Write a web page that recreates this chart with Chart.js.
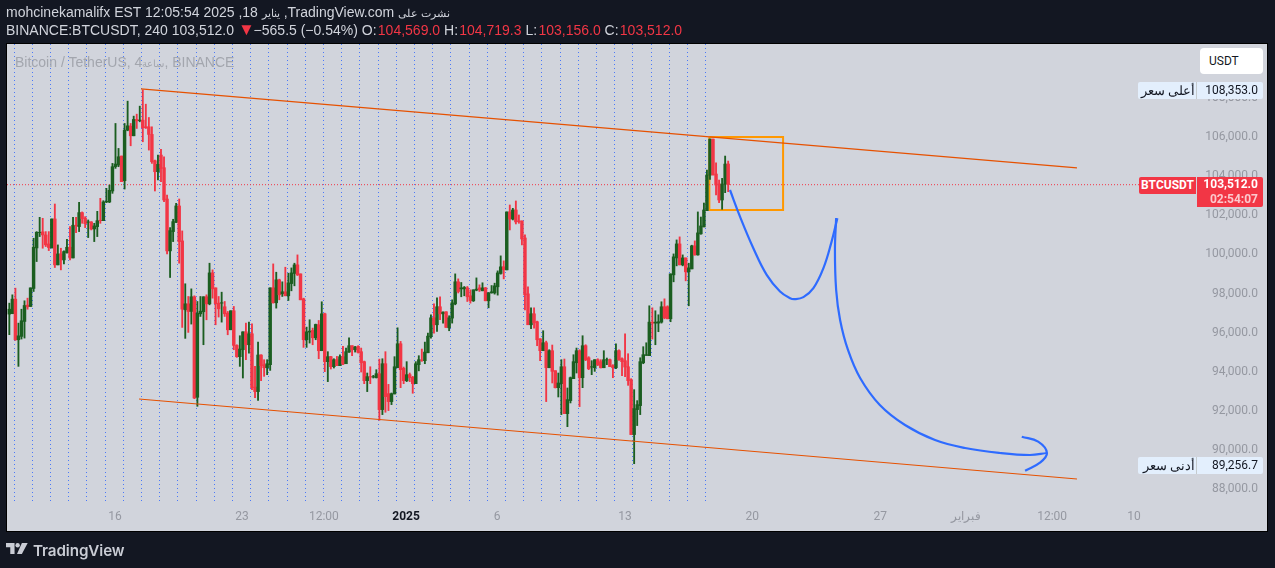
<!DOCTYPE html>
<html>
<head>
<meta charset="utf-8">
<title>BTCUSDT</title>
<script src="https://cdn.jsdelivr.net/npm/chart.js@4"></script>
<style>
  html, body { margin: 0; padding: 0; background: #131722; }
  #page { position: relative; width: 1275px; height: 568px; overflow: hidden; background: #131722; font-family: "Liberation Sans", Arial, sans-serif; }
  #panel { position: absolute; left: 7px; top: 44px; width: 1260px; height: 487px; background: #d1d4dc; box-shadow: 0 0 0 1px #000; }
  canvas { position: absolute; left: 0; top: 0; }
  .head { position: absolute; left: 6px; font-size: 14px; color: #d1d4dc; white-space: nowrap; line-height: 18px; }
  .head b { font-weight: normal; color: #f23645; margin-left: 1.25px; }
  .head i { font-style: normal; font-size: 17px; line-height: 14px; color: #f23645; margin-right: -5px; }
  .ltr { unicode-bidi: bidi-override; direction: ltr; }
  .ar { unicode-bidi: isolate; direction: rtl; font-size: 11px; }
  #watermark { position: absolute; left: 15px; top: 54px; font-size: 14px; color: #a3a6ae; white-space: nowrap; }
  #watermark .ar { font-size: 10px; }
  .tag { position: absolute; font: 12px Roboto, sans-serif; white-space: nowrap; }
  #usdt { left: 1200px; top: 48px; width: 63px; height: 26px; line-height: 26px; background: #fff; border-radius: 4px; color: #131722; text-indent: 9px; }
  .extreme { left: 1138px; width: 125px; height: 17px; line-height: 17px; background: #e3effd; border-radius: 2px; color: #131722; }
  .extreme .name { position: absolute; left: 0; width: 57px; text-align: right; padding-right: 1px; direction: rtl; border-right: 1px solid #c5cbce; font: 13px "Noto Sans", sans-serif; line-height: 17px; }
  .extreme .num { position: absolute; right: 5px; }
  #sym { left: 1139px; top: 177px; width: 57px; height: 17px; line-height: 17px; background: #f23645; color: #fff; font-weight: bold; text-align: center; border-radius: 2px 0 0 2px; }
  #last { left: 1197px; top: 177px; width: 66px; height: 30px; background: #f23645; color: #fff; font-weight: bold; text-align: right; border-radius: 0 2px 2px 0; }
  #last div { padding-right: 5px; height: 15px; line-height: 15px; }
  #last div + div { color: #fcc8cd; }
  #logo { position: absolute; left: 6px; top: 541px; color: #c9ccd4; font: 600 15.2px "Inter", sans-serif; }
  #logo svg { position: absolute; left: 0; top: 2px; }
  #logo span { position: absolute; left: 27px; top: 0; letter-spacing: -0.1px; }
</style>
</head>
<body>
<div id="page">
  <div id="panel"></div>
  <canvas id="chart" width="1275" height="568"></canvas>
  <div class="head" style="top:3px"><span class="ltr">mohcinekamalifx EST 12:05:54 2025 ,18 </span><span class="ar">يناير</span><span class="ltr"> ,TradingView.com </span><span class="ar">نشرت على</span></div>
  <div class="head" style="top:21px">BINANCE:BTCUSDT, 240 103,512.0 <i>▼</i> −565.5 (−0.54%) O:<b>104,569.0</b> H:<b>104,719.3</b> L:<b>103,156.0</b> C:<b>103,512.0</b></div>
  <div id="watermark">Bitcoin / TetherUS, <span class="ltr">4</span><span class="ar">ساعة</span>, BINANCE</div>
  <div class="tag" id="usdt">USDT</div>
  <div class="tag extreme" style="top:82px"><span class="name">أعلى سعر</span><span class="num">108,353.0</span></div>
  <div class="tag extreme" style="top:457px"><span class="name">أدنى سعر</span><span class="num">89,256.7</span></div>
  <div class="tag" id="sym">BTCUSDT</div>
  <div class="tag" id="last"><div>103,512.0</div><div>02:54:07</div></div>
  <div id="logo">
    <svg width="22" height="11" viewBox="0 0 36 18"><path fill="#c9ccd4" d="M0 0h14v18H7V7H0V0zM26 18h-8L26 0h9.5L26 18z"/><circle fill="#c9ccd4" cx="19" cy="3.6" r="3.6"/></svg>
    <span>TradingView</span>
  </div>
</div>
<script>
// Свечи 4h, читаем с картинки
const opens = [
  96900,96920,97665,95590,95760,96525,97360,97290,98210,100280,
  101065,101100,100945,100485,100280,101760,99415,99975,99670,100045,
  100315,99770,101440,101370,102085,101810,101590,101610,101250,101370,
  101695,101675,102630,102630,103190,104430,104515,104975,103715,106300,
  106505,106010,106845,106790,106810,106470,106470,106080,104735,104175,
  105025,104380,102780,100130,101115,101590,102425,100640,97120,97425,
  97035,97785,92650,96915,97020,97785,97425,99005,98240,97460,
  97460,97275,96950,96100,97070,95300,94725,95080,95995,95335,
  95895,93175,92940,94810,94315,94160,94315,98240,97480,98650,
  97936,98040,97835,98460,98975,99415,98955,97680,95590,95980,
  96065,95690,96355,95030,96915,94470,94725,94215,94570,94265,
  94725,94365,94960,95285,95080,95250,94980,94470,93500,93705,
  93685,93650,93855,92020,94365,92835,92430,92820,94160,95385,
  94130,93500,93805,93670,93345,94315,94553,94520,94925,95745,
  96710,96355,97275,96915,97020,96200,96695,97425,98550,98190,
  98190,98240,97835,97580,98125,98240,98090,98240,97580,97985,
  97985,98295,98975,99315,99160,102120,101760,102220,101660,101660,
  100790,97935,96355,96915,96510,95640,95030,95435,94160,95030,
  94010,93140,93345,94210,91815,92480,93600,94415,95030,93650,
  95285,94670,94195,94160,94570,94470,94160,94555,94570,94265,
  94160,95030,94620,94520,94210,93550,90745,92020,92225,94415,
  94790,94775,96490,96440,96440,96490,97275,97275,96660,98905,
  99770,100485,99415,99770,99060,99210,100385,99925,101000,101355,
  102185,104005,105841,104056,103545,102730,103545,104569
];
const highs = [
  97460,97885,98225,96440,97150,97580,97715,98240,100775,101115,
  101845,101795,101115,101115,101760,102525,100435,100265,100130,100725,
  101370,101845,101845,102610,102120,101880,101710,101625,101540,102150,
  102815,102695,103325,103495,104600,106640,105365,104975,106640,107780,
  106640,107015,107115,107525,108353,107625,106945,106470,104770,105025,
  105315,104940,102985,101320,101745,102560,102780,101150,98450,97800,
  98190,97835,97545,97800,97785,97885,99500,99160,98240,97800,
  98020,97545,97035,97070,97290,95335,95795,95995,96440,96490,
  96405,94230,95470,94825,94570,94570,98240,99465,99040,98685,
  98550,99295,98990,99260,99500,99925,98955,97715,96235,96610,
  96185,96390,96575,97530,96950,94980,94740,94620,94740,94825,
  95250,95165,95690,95285,95250,95285,95165,94500,93890,94210,
  93770,94060,94600,94620,94980,93310,92870,94725,96200,95505,
  94195,94470,93890,93720,94470,94775,95115,95470,95930,96865,
  97425,97730,97785,97020,97020,96815,97630,98955,98700,98515,
  98310,98310,98140,98140,98750,98395,98500,98260,98005,98360,
  98480,99110,99875,99620,102120,102475,102305,102680,101965,101660,
  100945,98290,97220,97220,96540,95640,96050,95520,95080,95320,
  94010,93890,94570,94605,93125,93685,94825,95165,95080,95795,
  95335,94725,94520,94570,94620,94570,95030,94655,94605,94315,
  95385,95080,94670,95895,94875,93600,93040,92480,94670,95235,
  95435,97325,97220,97070,96865,97530,97680,97325,98955,99975,
  100690,100845,99925,99770,99500,100420,100640,102120,101860,102575,
  104260,105841,105841,104635,103750,103835,104975,104719.3
];
const lows = [
  95850,96920,95555,94230,95625,95675,97150,97290,98055,99585,
  100860,100265,100350,100145,100280,99280,99415,99160,99465,100010,
  99670,99770,101065,101115,101540,101320,100810,101200,100605,100860,
  101540,101675,102595,102595,103070,104345,104430,103665,103290,106266,
  105500,106010,106385,106725,105705,106385,105280,104600,103190,103750,
  103665,102645,99975,98770,100605,101575,99500,96220,95660,95965,
  96390,92580,92190,96780,95335,96610,97375,97715,96355,96750,
  96490,96780,95845,96100,95080,94690,94230,93635,94570,94910,
  93040,92630,92495,93500,93720,93805,94025,97460,97205,97630,
  97800,97835,97595,98090,98345,98870,97630,95200,95200,95420,
  95335,95590,94620,95030,93960,93450,94095,94145,94265,94265,
  94315,94365,94945,94775,94960,94910,93940,93345,92940,93345,
  93635,93635,91475,91765,91885,91970,92275,92820,94160,93140,
  93345,93450,93450,92855,93345,94000,94485,94365,94925,95675,
  95930,96015,96610,96440,96220,96050,96440,97375,97980,97785,
  97835,97545,97460,97545,98090,98055,98090,97580,97220,97970,
  97920,97870,98940,98700,99160,101200,101710,101505,101540,100435,
  97120,96355,96150,96185,95285,94520,95030,92430,94160,93380,
  93125,92665,91765,91815,91150,92360,93600,93890,92175,93140,
  94520,94060,93805,93975,94265,94145,94160,94315,94215,93650,
  94110,94535,93755,93705,93260,90745,89256.7,91205,91765,94365,
  94790,94775,95625,95335,96000,96440,96660,96660,96510,98550,
  99365,99415,99365,98600,97325,99210,99910,99910,100980,101355,
  102185,103785,104005,102985,102595,102255,103105,103156
];
const closes = [
  97150,97665,95590,95790,96560,97340,97275,98240,100315,101080,
  101080,100945,100435,100300,101760,99415,99975,99670,100095,100315,
  99770,101440,101420,102085,101780,101520,101610,101250,101405,101675,
  101675,102630,102660,103225,104430,104566,104940,103665,106300,106520,
  106010,106845,106775,106810,106420,106420,106080,104685,104175,104550,
  104345,102730,100130,101165,101625,102425,100605,97155,97425,97035,
  97785,92615,96950,97050,97785,97425,99005,98190,97425,97170,
  97480,96915,96100,97070,95300,94725,95115,95995,95335,95895,
  93140,92940,94810,94265,94160,94365,98240,97480,98650,97885,
  98040,97835,98495,99005,99415,98905,97630,95590,95995,96030,
  95690,96370,95030,96915,94470,94725,94215,94570,94265,94725,
  94350,94980,95285,95080,95215,94945,94415,93500,93705,93685,
  93705,93855,92020,94365,92680,92430,92835,94210,95385,94060,
  93500,93805,93650,93345,94365,94570,94535,94960,95775,96710,
  96355,97275,96915,97000,96220,96710,97475,98550,98055,98240,
  98260,97785,97580,98140,98175,98140,98240,97580,97985,98040,
  98345,99005,99315,99175,102120,101760,102220,101610,101625,100740,
  97885,96355,96915,96455,95590,95030,95435,94160,95030,93975,
  93140,93380,94210,91815,92530,93650,94470,95030,93650,95285,
  94570,94110,94210,94570,94315,94160,94570,94570,94215,94160,
  95030,94570,94470,94195,93500,90745,92070,92275,94470,94825,
  94825,96490,96440,96490,96510,97275,96710,96660,98955,99825,
  100485,99415,99770,99060,99260,100385,99925,101050,101405,102220,
  104005,105841,104005,103495,102730,103545,104565,103512
];

// Подписи и вертикальные линии по оси X (номер свечи)
const dayLines = [4.6,10.6,16.6,22.6,28.6,34.6,40.6,46.6,52.6,58.6,64.6,70.6,76.6,82.6,88.6,94.6,100.6,106.6,112.6,118.6,124.6,130.6,136.6,142.6,148.6,154.6,160.6,166.6,172.6,178.6,184.6,190.6,196.6,202.6,208.6,214.6,220.6,226.6,232.6];
const tickPositions = [34.84,76.7,103.7,130.8,160.8,203,244.9,287.1,315.4,343.8,370.8];
const tickLabels = ['16','23','12:00','2025','6','13','20','27','فبراير','12:00','10'];
const priceTicks = [88000,90000,92000,94000,96000,98000,100000,102000,104000,106000,108000];

// Наклонный канал
const upperX = [43.4,352];
const upperY = [108404,104367];
const lowerX = [42.75,352];
const lowerY = [92563,88475];

// Прямоугольник
const boxX = [230.8,255.1,255.1,230.8,230.8];
const boxY = [105951,105951,102221,102221,105951];

// Синие кривые от руки
const curveAX = [237.6,240.9,245.3,249.7,254.1,257.4,259.0,261.8,265.1,268.4,271.1,273.0];
const curveAY = [103240,101880,100265,98905,98055,97715,97665,97765,98225,99245,100605,101795];
const curveBX = [272.6,272.2,272.6,273.9,276.5,280.5,287.0,295.3,305.2,315.1,326.6,336.5,342.1];
const curveBY = [101812,100180,98133,96600,95067,93636,92257,91235,90468,90060,89804,89702,89804];
const arrowX = [333.8,339.2,342.1,339.8,334.9];
const arrowY = [90637,90381,89804,89308,88899];

// Линия текущей цены
const lastPrice = 103512;
const lastX = [-0.77,372.8];

const GREEN = '#1b5e20';
const RED = '#f23645';
const barColors = closes.map((c, i) => c >= opens[i] ? GREEN : RED);
const xy = (xs, ys) => xs.map((x, i) => ({ x, y: ys[i] }));

const lineSet = (data, color, width, extra) => ({
  type: 'line',
  data,
  borderColor: color,
  borderWidth: width,
  pointRadius: 0,
  fill: false,
  ...extra
});

new Chart(document.getElementById('chart'), {
  data: {
    datasets: [
      lineSet(xy(lastX, [lastPrice, lastPrice]), RED, 1, { borderDash: [1, 2], order: 6 }),
      lineSet(xy(boxX, boxY), '#ff9800', 2, { order: 7 }),
      {
        type: 'bar',
        data: opens.map((o, i) => ({ x: i, y: [lows[i], highs[i]] })),
        backgroundColor: barColors,
        barThickness: 1.2,
        grouped: false,
        order: 5
      },
      {
        type: 'bar',
        data: opens.map((o, i) => ({ x: i, y: [o, closes[i]] })),
        backgroundColor: barColors,
        barThickness: 2.8,
        grouped: false,
        order: 4
      },
      lineSet(xy(upperX, upperY), '#e65100', 1.2, { order: 3 }),
      lineSet(xy(lowerX, lowerY), '#e65100', 1.2, { order: 3 }),
      lineSet(xy(curveAX, curveAY), '#2e6bff', 2.2, { tension: 0.4, order: 1 }),
      lineSet(xy(curveBX, curveBY), '#2e6bff', 2.2, { tension: 0.4, order: 1 }),
      lineSet(xy(arrowX, arrowY), '#2e6bff', 2.2, { tension: 0.4, order: 1 })
    ]
  },
  options: {
    responsive: false,
    animation: false,
    layout: { padding: { left: 7, right: 17, top: 44, bottom: 37 } },
    plugins: { legend: { display: false }, tooltip: { enabled: false } },
    scales: {
      x: {
        type: 'linear',
        offset: false,
        min: -0.77,
        max: 391.9,
        afterBuildTicks: scale => {
          scale.ticks = dayLines.concat(tickPositions).map(value => ({ value }));
        },
        afterFit: scale => { scale.height = 29; },
        border: { display: false, dash: [1, 3] },
        grid: {
          drawTicks: false,
          lineWidth: 1,
          color: ctx => dayLines.includes(ctx.tick?.value) ? 'rgba(41,98,255,.8)' : 'transparent'
        },
        ticks: {
          autoSkip: false,
          maxRotation: 0,
          padding: 8,
          font: ctx => ({ family: 'Roboto', size: 12, weight: tickLabels[tickPositions.indexOf(ctx.tick?.value)] === '2025' ? 'bold' : 'normal' }),
          color: ctx => tickLabels[tickPositions.indexOf(ctx.tick?.value)] === '2025' ? '#131722' : '#9598a1',
          callback: value => {
            const k = tickPositions.indexOf(value);
            return k < 0 ? '' : tickLabels[k];
          }
        }
      },
      y: {
        position: 'right',
        min: 87300,
        max: 110700,
        afterBuildTicks: scale => {
          scale.ticks = priceTicks.map(value => ({ value }));
        },
        afterFit: scale => { scale.width = 60; },
        border: { display: false },
        grid: { display: false },
        ticks: {
          crossAlign: 'far',
          labelOffset: 1,
          font: { family: 'Roboto', size: 12 },
          color: '#9598a1',
          callback: value => value.toLocaleString('en-US', { minimumFractionDigits: 1 })
        }
      }
    }
  }
});
</script>
</body>
</html>
